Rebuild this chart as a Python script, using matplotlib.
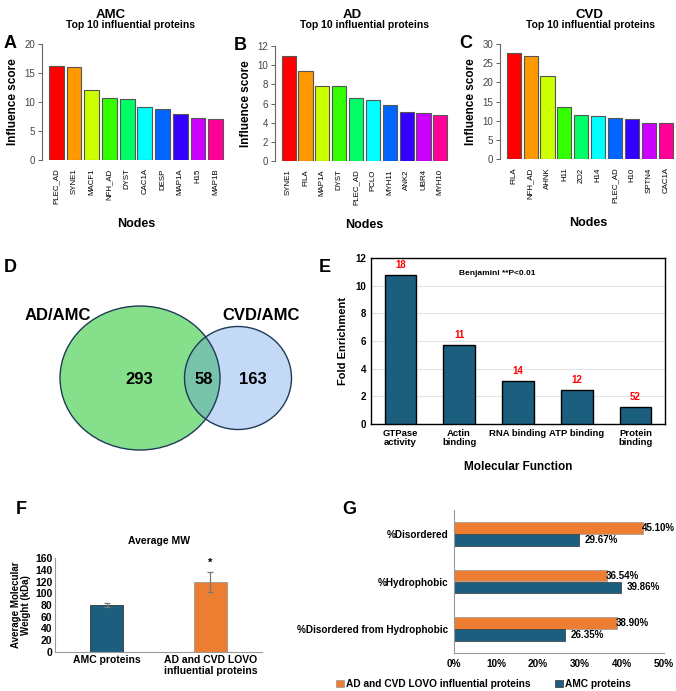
import numpy as np
import matplotlib
matplotlib.use('Agg')
import matplotlib.pyplot as plt
from matplotlib.patches import Ellipse

plt.rcParams['font.family'] = ['Liberation Sans', 'DejaVu Sans']

# ---- data ----
amc_nodes = ['PLEC_AD', 'SYNE1', 'MACF1', 'NFH_AD', 'DYST', 'CAC1A', 'DESP', 'MAP1A', 'H15', 'MAP1B']
amc_scores = [16.2, 16.0, 12.05, 10.75, 10.45, 9.15, 8.75, 7.95, 7.3, 7.15]
ad_nodes = ['SYNE1', 'FILA', 'MAP1A', 'DYST', 'PLEC_AD', 'PCLO', 'MYH11', 'ANK2', 'UBR4', 'MYH10']
ad_scores = [10.95, 9.35, 7.85, 7.8, 6.55, 6.4, 5.85, 5.1, 5.05, 4.75]
cvd_nodes = ['FILA', 'NFH_AD', 'AHNK', 'H11', 'ZO2', 'H14', 'PLEC_AD', 'H10', 'SPTN4', 'CAC1A']
cvd_scores = [27.7, 26.8, 21.7, 13.5, 11.5, 11.1, 10.8, 10.4, 9.5, 9.5]

venn_labels = ['AD/AMC', 'CVD/AMC']
venn_counts = [293, 58, 163]

mf_terms = ['GTPase\nactivity', 'Actin\nbinding', 'RNA binding', 'ATP binding', 'Protein\nbinding']
mf_fold = [10.8, 5.7, 3.12, 2.49, 1.23]
mf_counts = [18, 11, 14, 12, 52]

mw_groups = ['AMC proteins', 'AD and CVD LOVO\ninfluential proteins']
mw_mean = [79.5, 119.5]
mw_err = [3.5, 17.5]

prop_cats = ['%Disordered', '%Hydrophobic', '%Disordered from Hydrophobic']
prop_lovo = [45.10, 36.54, 38.90]
prop_amc = [29.67, 39.86, 26.35]
series_names = ['AD and CVD LOVO influential proteins', 'AMC proteins']

rainbow10 = ['#FF0000', '#FF9900', '#CCFF00', '#33FF00', '#00FF66',
             '#00FFFF', '#0066FF', '#3300FF', '#CC00FF', '#FF0099']
navy = '#1B5E7E'
orange = '#ED7D31'

W, H = 676, 691
fig = plt.figure(figsize=(W / 100, H / 100), dpi=100)


def px_axes(x0, y0, x1, y1):
    return fig.add_axes([x0 / W, 1 - y1 / H, (x1 - x0) / W, (y1 - y0) / H])


def ftext(x, y, s, **kw):
    fig.text(x / W, 1 - y / H, s, **kw)


# ---- panels A-C (R style barplots) ----
def node_panel(box, names, scores, ymax, step, letter, title, letter_xy, title_x, xr=12.47):
    ax = px_axes(*box)
    x = 0.7 + 1.2 * np.arange(len(names))
    ax.bar(x, scores, width=1.0, color=rainbow10, edgecolor='#555555', linewidth=0.8)
    ax.set_xlim(-0.27, xr)
    ax.set_ylim(0, ymax)
    for s in ['top', 'right', 'bottom']:
        ax.spines[s].set_visible(False)
    ax.spines['left'].set_color('#666666')
    ax.set_yticks(np.arange(0, ymax + 0.1, step))
    ax.tick_params(axis='y', labelsize=7, colors='#444444', length=3, width=0.6, pad=2)
    ax.set_xticks(x)
    ax.set_xticklabels(names, rotation=90, fontsize=5.7)
    ax.tick_params(axis='x', length=0, pad=6)
    ax.set_xlabel('Nodes', fontsize=9, fontweight='bold', labelpad=10)
    ax.set_ylabel('Influence score', fontsize=8.5, fontweight='bold', labelpad=4)
    ftext(letter_xy[0], letter_xy[1], letter, fontsize=13, fontweight='bold', ha='left', va='center')
    ftext(title_x[0], 14.5, title, fontsize=9.5, fontweight='bold', ha='center', va='center')
    ftext(title_x[1], 25, 'Top 10 influential proteins', fontsize=7.5, fontweight='bold',
          ha='center', va='center')
    return ax


node_panel((42, 44, 230, 160), amc_nodes, amc_scores, 20, 5, 'A', 'AMC', (4, 44), (111, 131))
node_panel((275, 46, 454, 161), ad_nodes, ad_scores, 12, 2, 'B', 'AD', (234, 46), (352, 364))
node_panel((500, 44, 676, 159), cvd_nodes, cvd_scores, 30, 5, 'C', 'CVD', (459, 44), (589, 590), xr=12.22)

# ---- panel D (Venn) ----
axD = px_axes(0, 230, 340, 480)
axD.set_xlim(0, 340)
axD.set_ylim(250, 0)
axD.axis('off')
green = Ellipse((140, 148), 160, 144, facecolor='#86E08B', edgecolor='none')
blue = Ellipse((238, 148), 107, 103, facecolor='#C3D9F5', edgecolor='none')
axD.add_patch(green)
axD.add_patch(blue)
overlap = Ellipse((140, 148), 160, 144, facecolor='#78C4AA', edgecolor='none')
axD.add_patch(overlap)
overlap.set_clip_path(blue)
for e in [Ellipse((140, 148), 160, 144), Ellipse((238, 148), 107, 103)]:
    e.set_facecolor('none')
    e.set_edgecolor('#1E3A58')
    e.set_linewidth(1.0)
    axD.add_patch(e)
axD.text(58, 85, venn_labels[0], fontsize=12, fontweight='bold', ha='center', va='center')
axD.text(261, 85, venn_labels[1], fontsize=12, fontweight='bold', ha='center', va='center')
for xx, c in zip([139, 204, 253], venn_counts):
    axD.text(xx, 149, str(c), fontsize=12, fontweight='bold', ha='center', va='center')
ftext(4, 268, 'D', fontsize=13, fontweight='bold', ha='left', va='center')

# ---- panel E (fold enrichment) ----
axE = px_axes(371, 258, 665, 424)
xe = np.arange(len(mf_terms))
axE.bar(xe, mf_fold, width=0.54, color=navy, edgecolor='black', linewidth=1.0, zorder=3)
axE.set_xlim(-0.5, 4.5)
axE.set_ylim(0, 12)
axE.set_yticks(np.arange(0, 13, 2))
axE.yaxis.grid(True, color='#E3E3E3', linewidth=0.8, zorder=0)
axE.set_axisbelow(True)
for s in axE.spines.values():
    s.set_linewidth(1.0)
axE.tick_params(axis='both', length=0, labelsize=7)
axE.set_xticks(xe)
axE.set_xticklabels(mf_terms, fontsize=6.8, fontweight='bold', linespacing=1.0)
for lbl in axE.get_yticklabels():
    lbl.set_fontweight('bold')
for xx, v, c in zip(xe, mf_fold, mf_counts):
    axE.annotate(str(c), (xx, v), xytext=(0, 3.5), textcoords='offset points',
                 ha='center', va='bottom', color='red', fontsize=7, fontweight='bold')
axE.text(0.30, 0.905, 'Benjamini **P<0.01', transform=axE.transAxes, fontsize=6,
         fontweight='bold', ha='left', va='center')
axE.set_ylabel('Fold Enrichment', fontsize=8, fontweight='bold', labelpad=5)
axE.set_xlabel('Molecular Function', fontsize=8.5, fontweight='bold', labelpad=10)
ftext(319, 268, 'E', fontsize=13, fontweight='bold', ha='left', va='center')

# ---- panel F (average MW) ----
axF = px_axes(55, 558, 262, 652)
xf = np.arange(len(mw_groups))
axF.bar(xf, mw_mean, width=0.32, color=[navy, orange], edgecolor=['#333333', '#999999'],
        linewidth=0.6, yerr=mw_err, error_kw=dict(ecolor='#777777', elinewidth=0.9, capsize=2, capthick=0.9))
axF.set_xlim(-0.5, 1.5)
axF.set_ylim(0, 160)
axF.set_yticks(np.arange(0, 161, 20))
for s in ['top', 'right']:
    axF.spines[s].set_visible(False)
axF.spines['left'].set_color('#999999')
axF.spines['bottom'].set_color('#999999')
axF.tick_params(axis='both', length=0, labelsize=7.5, pad=2)
axF.set_xticks(xf)
axF.set_xticklabels(mw_groups, fontsize=7.5, fontweight='bold', linespacing=1.1)
for lbl in axF.get_yticklabels():
    lbl.set_fontweight('bold')
axF.annotate('*', (1, mw_mean[1] + mw_err[1]), xytext=(0, 3), textcoords='offset points',
             ha='center', va='bottom', fontsize=8, fontweight='bold')
axF.set_ylabel('Average Molecular\nWeight (kDa)', fontsize=7, fontweight='bold', labelpad=3, linespacing=1.0)
axF.set_title('Average MW', fontsize=7.5, fontweight='bold', pad=10)
ftext(16, 510, 'F', fontsize=13, fontweight='bold', ha='left', va='center')

# ---- panel G (sequence properties) ----
axG = px_axes(454, 510, 664, 653)
yg = np.arange(len(prop_cats))
h = 0.25
axG.barh(yg - h / 2, prop_lovo, height=h, color=orange, edgecolor='#999999', linewidth=0.5,
         label=series_names[0])
axG.barh(yg + h / 2, prop_amc, height=h, color=navy, edgecolor='#333333', linewidth=0.5,
         label=series_names[1])
for yy, v in zip(yg, prop_lovo):
    axG.annotate(f'{v:.2f}%', (v, yy - h / 2), xytext=(-1, 0), textcoords='offset points',
                 ha='left', va='center', fontsize=7, fontweight='bold')
for yy, v in zip(yg, prop_amc):
    axG.annotate(f'{v:.2f}%', (v, yy + h / 2), xytext=(4, 0), textcoords='offset points',
                 ha='left', va='center', fontsize=7, fontweight='bold')
axG.set_xlim(0, 50)
axG.set_ylim(2.5, -0.5)
axG.set_xticks(np.arange(0, 51, 10))
axG.set_xticklabels([f'{t}%' for t in range(0, 51, 10)])
axG.set_yticks(yg)
axG.set_yticklabels(prop_cats)
for s in ['top', 'right']:
    axG.spines[s].set_visible(False)
axG.spines['left'].set_color('#999999')
axG.spines['bottom'].set_color('#999999')
axG.tick_params(axis='both', length=0, labelsize=7.2, pad=4)
for lbl in axG.get_yticklabels() + axG.get_xticklabels():
    lbl.set_fontweight('bold')
axG.legend(loc='upper center', bbox_to_anchor=(0.14, -0.12), ncol=2, frameon=False,
           prop={'weight': 'bold', 'size': 7.3}, handlelength=0.7, handleheight=0.7,
           handletextpad=0.2, columnspacing=2.5)
ftext(342, 509, 'G', fontsize=13, fontweight='bold', ha='left', va='center')

fig.savefig('out.png', dpi=100)
